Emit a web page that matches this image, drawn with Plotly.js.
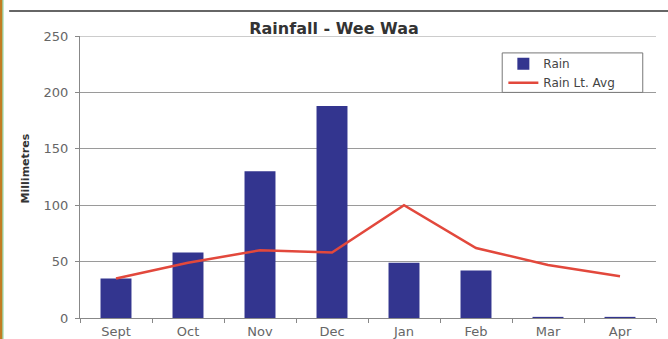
<!DOCTYPE html>
<html>
<head>
<meta charset="utf-8">
<script src="https://cdn.plot.ly/plotly-3.0.1.min.js"></script>
<style>
  html, body { margin: 0; padding: 0; background: #ffffff; }
  #chart { width: 668px; height: 339px; }
</style>
</head>
<body>
<div id="chart"></div>
<script>
// Monthly rainfall at Wee Waa, season September to April
const months = ["Sept", "Oct", "Nov", "Dec", "Jan", "Feb", "Mar", "Apr"];
const rain = [35, 58, 130, 188, 49, 42, 1, 1];          // mm recorded
const rainLtAvg = [35, 49, 60, 58, 100, 62, 47, 37];    // long-term average, mm
const yTicks = [0, 50, 100, 150, 200, 250];
const yMax = 250;

const fontFamily = "DejaVu Sans, Liberation Sans, Arial, sans-serif";
const tickFont = { family: fontFamily, size: 13, color: "#666666" };

const traces = [
  {
    type: "bar",
    name: "Rain",
    x: months,
    y: rain,
    width: 0.43,
    marker: { color: "#33358f", line: { width: 0 } }
  },
  {
    type: "scatter",
    mode: "lines",
    name: "Rain Lt. Avg",
    x: months,
    y: rainLtAvg,
    line: { color: "#e2483c", width: 2.5 }
  }
];

const layout = {
  width: 668,
  height: 339,
  margin: { l: 80, r: 12, t: 36, b: 21 },
  paper_bgcolor: "#ffffff",
  plot_bgcolor: "#ffffff",
  showlegend: true,
  title: {
    text: "Rainfall - Wee Waa",
    font: { family: fontFamily, size: 16, color: "#333333", weight: "bold" },
    xref: "container", x: 0.5, xanchor: "center",
    yref: "container", y: 0.915, yanchor: "middle"
  },
  xaxis: {
    type: "category",
    range: [-0.5, 7.5],
    showline: true,
    linecolor: "#888888",
    linewidth: 1,
    ticks: "outside",
    tickson: "boundaries",
    ticklen: 4,
    tickcolor: "#888888",
    ticklabelstandoff: 1,
    showgrid: false,
    tickfont: tickFont,
    fixedrange: true
  },
  yaxis: {
    range: [0, yMax],
    tickvals: yTicks,
    ticktext: yTicks.map(String),
    showline: true,
    linecolor: "#888888",
    linewidth: 1,
    ticks: "outside",
    ticklen: 4,
    tickcolor: "#888888",
    ticklabelstandoff: 4,
    showgrid: true,
    gridcolor: "#9a9a9a",
    gridwidth: 1,
    zeroline: false,
    tickfont: tickFont,
    fixedrange: true
  },
  legend: {
    x: 0.735, xanchor: "left",
    y: 0.953, yanchor: "top",
    bgcolor: "rgba(0,0,0,0)",
    borderwidth: 0,
    font: { family: fontFamily, size: 12, color: "#444444" },
    tracegroupgap: 0,
    itemwidth: 30
  },
  annotations: [
    {
      text: "Millimetres",
      xref: "paper", yref: "paper",
      x: -0.094, y: 0.53,
      xanchor: "center", yanchor: "middle",
      textangle: -90,
      showarrow: false,
      font: { family: fontFamily, size: 11, color: "#333333", weight: "bold" }
    }
  ],
  shapes: [
    // top gridline at the end of the value range
    {
      type: "line", xref: "paper", yref: "y",
      x0: 0, x1: 1, y0: yMax, y1: yMax,
      line: { color: "#9a9a9a", width: 1 }, layer: "below"
    },
    // legend frame
    {
      type: "rect", xref: "paper", yref: "paper",
      x0: 0.733, x1: 0.977, y0: 0.80, y1: 0.94,
      fillcolor: "#ffffff", line: { color: "#777777", width: 1 }, layer: "above"
    },
    // rule across the top of the panel
    {
      type: "line", xref: "paper", yref: "paper",
      x0: -0.123, x1: 1.03, y0: 1.0887, y1: 1.0887,
      line: { color: "#333333", width: 1.5 }
    },
    // coloured edge strip on the left
    {
      type: "rect", xref: "paper", yref: "paper",
      x0: -0.1400, x1: -0.1345, y0: -0.1, y1: 1.15,
      fillcolor: "#c27c22", line: { width: 0 }
    },
    {
      type: "line", xref: "paper", yref: "paper",
      x0: -0.1338, x1: -0.1338, y0: -0.1, y1: 1.15,
      line: { color: "#7cc68a", width: 1 }
    }
  ]
};

Plotly.newPlot("chart", traces, layout, { displayModeBar: false, staticPlot: true });
</script>
</body>
</html>
